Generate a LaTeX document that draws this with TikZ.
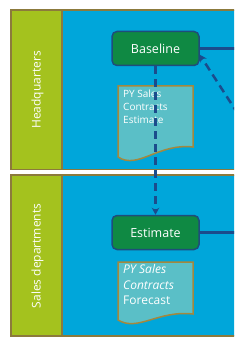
\documentclass[tikz,border=0pt]{standalone}
\usepackage{fontspec}
\setmainfont{Open Sans}
\usetikzlibrary{arrows.meta,positioning,calc}
\definecolor{lanebg}{HTML}{00A6DA}
\definecolor{lanehd}{HTML}{A4C21E}
\definecolor{laneln}{HTML}{8C7A3C}
\definecolor{taskbg}{HTML}{0F8943}
\definecolor{taskln}{HTML}{1E4D7B}
\definecolor{docbg}{HTML}{5ABFC7}
\definecolor{docln}{HTML}{A3883E}
\definecolor{flowc}{HTML}{1B4C8C}

\begin{document}
\begin{tikzpicture}[x=1pt, y=-1pt, >={Stealth[length=7pt,width=7.5pt]},
  lane/.style={fill=lanebg, draw=laneln, line width=1.5pt},
  head/.style={fill=lanehd, draw=laneln, line width=1.5pt},
  lanelabel/.style={rotate=90, text=white, font=\fontsize{12}{14}\selectfont},
  task/.style={draw=taskln, fill=taskbg, line width=1.5pt, rounded corners=5pt,
    minimum width=87pt, minimum height=34pt, text=white, font=\fontsize{12.5}{15}\selectfont},
  docshape/.style={draw=docln, fill=docbg, line width=1.5pt},
  doctext/.style={text=white, align=left, anchor=north west, inner sep=0pt},
  flow/.style={draw=flowc, line width=2.5pt},
  flowdash/.style={flow, dash pattern=on 8pt off 5pt}]
\clip (0,0) rectangle (234,344);

% swimlanes
\draw[lane] (11,10) rectangle (250,169.5);
\draw[head] (11,10) rectangle (62,169.5);
\draw[lane] (11,175) rectangle (250,336);
\draw[head] (11,175) rectangle (62,336);
\node[lanelabel] (hq) at (37.5,90) {Headquarters};
\node[lanelabel] (sd) at (37.5,256) {Sales departments};

% tasks
\node[task] (base) at (155.5,48.5) {Baseline};
\node[task] (est) at (155.5,232.5) {Estimate};

% documents
\draw[docshape] (118,86) -- (193,86) -- (193,147)
  .. controls (158,143) and (138,170) .. (118,157) -- cycle;
\node[doctext, font=\fontsize{10}{13.3}\selectfont] (doc1) at (123,89.5) {PY Sales\\Contracts\\Estimate};
\draw[docshape] (118,262) -- (193,262) -- (193,314)
  .. controls (158,310) and (138,332) .. (118,320) -- cycle;
\node[doctext, font=\fontsize{12}{15.5}\selectfont] (doc2) at (123,264.5) {\textit{PY Sales}\\\textit{Contracts}\\Forecast};

% flows
\coordinate (outA) at (240,48.5);
\coordinate (inB) at (238,114);
\coordinate (outC) at (240,232.5);
\draw[flow] (base) -- (outA);
\draw[flowdash,->] (inB) -- (base.352);
\draw[flowdash,->] (base) -- (est);
\draw[flow] (est) -- (outC);
\end{tikzpicture}
\end{document}
